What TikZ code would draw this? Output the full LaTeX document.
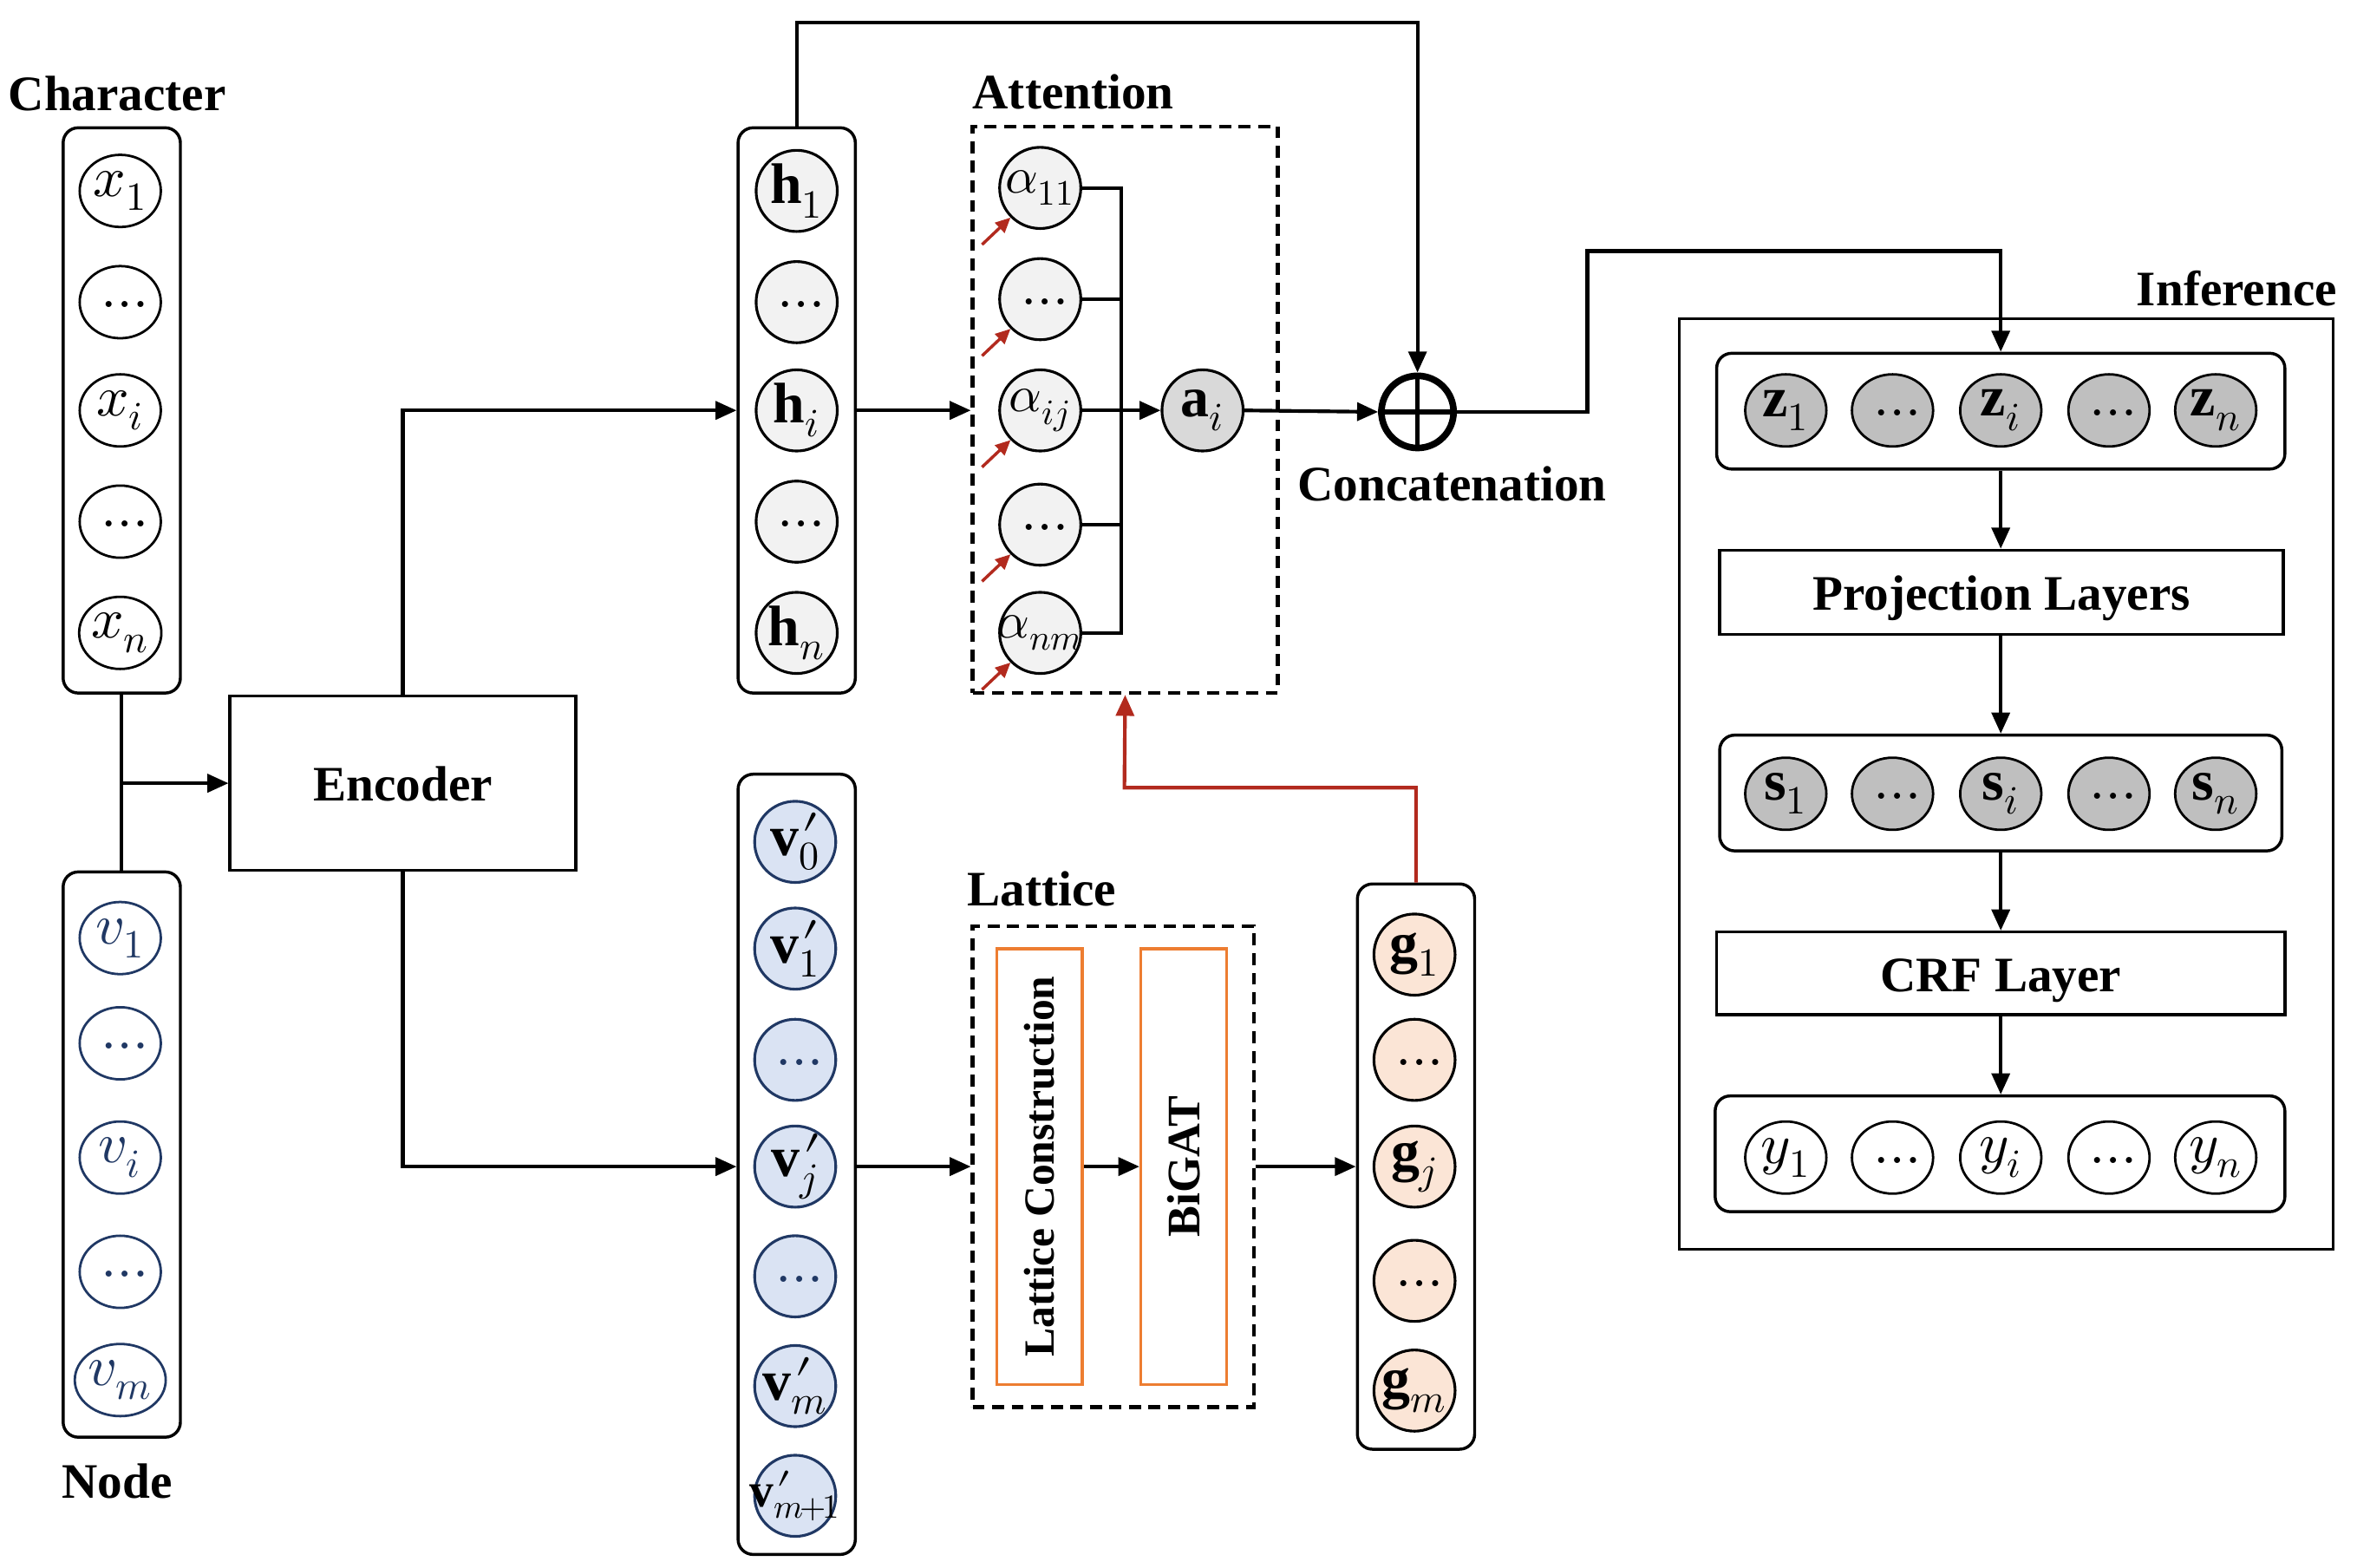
\documentclass[tikz,border=0pt]{standalone}
\usepackage{amsmath}
\usepackage{graphicx}
\usepackage{fontspec}
\usepackage{unicode-math}
\setmainfont{Liberation Serif}
\setmathfont{Latin Modern Math}
\usetikzlibrary{arrows.meta,shapes.geometric,calc}
\definecolor{navy}{HTML}{203864}
\definecolor{vfill}{HTML}{DAE3F3}
\definecolor{hfill}{HTML}{F2F2F2}
\definecolor{afill}{HTML}{D9D9D9}
\definecolor{zfill}{HTML}{BFBFBF}
\definecolor{gfill}{HTML}{FBE5D6}
\definecolor{orng}{HTML}{ED7D31}
\definecolor{dred}{HTML}{B22A1E}
\newcommand{\mydots}{$\vphantom{x_1}\ldots$}
\newcommand{\vp}[1]{\makebox[0pt]{$\mathbf{v}\rlap{$\mkern1mu\prime$}_{#1}$}}
\begin{document}
\begin{tikzpicture}[x=0.5pt,y=-0.5pt,
  arr/.style={line width=1.2pt,-{Triangle[length=7pt,width=6pt]}},
  redarr/.style={dred,line width=1.2pt,-{Triangle[length=7pt,width=6pt]}},
  redsm/.style={dred,line width=1pt,-{Triangle[length=5pt,width=4.5pt]}},
  conn/.style={line width=1.2pt},
  colbox/.style={draw,line width=1pt,rounded corners=5pt,minimum width=39pt,inner sep=0pt},
  rowbox/.style={draw,line width=1pt,rounded corners=5pt,minimum height=38.5pt,inner sep=0pt},
  plainbox/.style={draw,line width=1pt,inner sep=0pt},
  boxtext/.style={font=\fontsize{16.5}{18}\selectfont\bfseries,text height=16pt,text depth=4pt},
  ell/.style={ellipse,draw,line width=0.8pt,minimum width=27pt,minimum height=24pt,inner sep=0pt,font=\fontsize{19}{19}\selectfont},
  vell/.style={ell,draw=navy,text=navy},
  zell/.style={ell,fill=zfill},
  circ/.style={circle,draw,line width=0.9pt,minimum size=27pt,inner sep=0pt,font=\fontsize{19}{19}\selectfont},
  hcirc/.style={circ,fill=hfill},
  vcirc/.style={circ,draw=navy,fill=vfill},
  gcirc/.style={circ,fill=gfill},
  dashbox/.style={draw,line width=1.2pt,dash pattern=on 4pt off 2.5pt,inner sep=0pt},
  orbox/.style={draw=orng,line width=1pt,inner sep=0pt,minimum width=28.5pt,minimum height=145pt},
  lbl/.style={font=\fontsize{16.5}{18}\selectfont\bfseries,inner sep=0pt}
]
\useasboundingbox (0,0) rectangle (1568,1043);

% ---------- Character column ----------
\node[lbl] (charlbl) at (78,62) {Character};
\node[colbox,minimum height=188pt] (cbox) at (81,273) {};
\node[ell] (x1) at (80,127) {$x_1$};
\node[ell] (x2) at (80,201) {\mydots};
\node[ell] (x3) at (80,273) {$x_i$};
\node[ell] (x4) at (80,347) {\mydots};
\node[ell] (x5) at (80,421) {$x_n$};

% ---------- Node column ----------
\node[colbox,minimum height=188pt] (nbox) at (81,768) {};
\node[vell] (v1) at (80,624) {$v_1$};
\node[vell] (v2) at (80,694) {\mydots};
\node[vell] (v3) at (80,770) {$v_i$};
\node[vell] (v4) at (80,846) {\mydots};
\node[vell] (v5) at (80,918) {$v_m$};
\node[lbl] (nodelbl) at (78,985) {Node};

% ---------- Encoder ----------
\node[plainbox,boxtext,minimum width=115pt,minimum height=58pt] (enc) at (268,521) {Encoder};
\draw[conn] (cbox.south) -- (nbox.north);
\draw[arr] (cbox.south |- enc.west) -- (enc.west);

% ---------- h column ----------
\node[colbox,minimum height=188pt] (hbox) at (530,273) {};
\node[hcirc] (h1) at (530,127) {$\mathbf{h}_1$};
\node[hcirc] (h2) at (530,201) {\mydots};
\node[hcirc] (hi) at (530,273) {$\mathbf{h}_i$};
\node[hcirc] (h4) at (530,347) {\mydots};
\node[hcirc] (hn) at (530,421) {$\mathbf{h}_n$};
\draw[arr] (enc.north) |- (hi -| hbox.west);

% ---------- v' column ----------
\node[colbox,minimum height=259.5pt] (vbox) at (530,774.5) {};
\node[vcirc] (vp0) at (529,560) {\vp{0}};
\node[vcirc] (vp1) at (529,631) {\vp{1}};
\node[vcirc,text=navy] (vp2) at (529,705) {\mydots};
\node[vcirc] (vpj) at (529,776) {\vp{j}};
\node[vcirc,text=navy] (vp4) at (529,849) {\mydots};
\node[vcirc] (vpm) at (529,922) {\vp{m}};
\node[vcirc,font=\fontsize{16}{16}\selectfont] (vpm1) at (529,995) {\vp{m\mkern-2mu+\mkern-2mu1}};
\draw[arr] (enc.south) |- (vpj -| vbox.west);

% ---------- Attention ----------
\node[lbl] (attlbl) at (714,61) {Attention};
\node[dashbox,minimum width=101.5pt,minimum height=188.5pt] (att) at (748.5,272.5) {};
\node[hcirc] (a1) at (692,125) {\makebox[0pt]{\fontsize{17}{17}\selectfont$\alpha_{11}$}};
\node[hcirc] (a2) at (692,199) {\mydots};
\node[hcirc] (a3) at (692,273) {\makebox[0pt]{\fontsize{17}{17}\selectfont$\alpha_{ij}$}};
\node[hcirc] (a4) at (692,349) {\mydots};
\node[hcirc] (a5) at (692,421) {\makebox[0pt]{\fontsize{17}{17}\selectfont$\alpha_{nm}$}};
\node[circ,fill=afill] (ai) at (800,273) {$\mathbf{a}_i$};
\coordinate (busx) at (746,0);
\draw[conn] (a1.east) -- (a1.east -| busx) -- (a5.east -| busx) -- (a5.east);
\draw[conn] (a2.east) -- (a2.east -| busx);
\draw[conn] (a4.east) -- (a4.east -| busx);
\draw[arr] (a3.east) -- (ai.west);
\draw[arr] (hi -| hbox.east) -- (hi -| att.west);
\foreach \n in {a1,a2,a3,a4,a5}{
  \draw[redsm] ($(\n.225)+(-19,18)$) -- (\n.225);
}

% ---------- Concatenation ----------
\node[circle,draw,line width=2.2pt,minimum size=24pt,inner sep=0pt] (oplus) at (943,274) {};
\draw[line width=1.5pt] (oplus.north) -- (oplus.south);
\draw[line width=1.5pt] (oplus.west) -- (oplus.east);
\node[lbl] (conclbl) at (966,322) {Concatenation};
\draw[arr] (ai.east) -- (oplus.west);
\coordinate (k0) at (943,15);
\draw[arr] (hbox.north) |- (k0) -- (oplus.north);

% ---------- Lattice ----------
\node[lbl] (latlbl) at (693,591) {Lattice};
\node[dashbox,minimum width=93.5pt,minimum height=160pt] (latt) at (740.5,776) {};
\node[orbox] (lc) at (691.5,776) {};
\node[rotate=90,font=\fontsize{14.3}{16}\selectfont\bfseries,inner sep=0pt] (lctxt) at (lc.center) {Lattice Construction};
\node[orbox] (bigat) at (787.5,776) {};
\node[rotate=90,font=\fontsize{15.5}{17}\selectfont\bfseries,inner sep=0pt] (bigattxt) at (bigat.center) {BiGAT};
\draw[arr] (vpj.east -| vbox.east) -- (latt.west);
\draw[arr] (lc.east) -- (bigat.west);

% ---------- g column ----------
\node[colbox,minimum height=188pt] (gbox) at (942,776) {};
\node[gcirc] (g1) at (941,635) {$\mathbf{g}_1$};
\node[gcirc] (g2) at (941,705) {\mydots};
\node[gcirc] (gj) at (941,776) {$\mathbf{g}_j$};
\node[gcirc] (g4) at (941,852) {\mydots};
\node[gcirc] (gm) at (941,925) {\makebox[0pt]{$\mathbf{g}_m$}};
\draw[arr] (latt.east) -- (gj -| gbox.west);
\coordinate (rk) at (748,524);
\draw[redarr] (gbox.north) |- (rk) -- (att.south);

% ---------- Inference ----------
\node[plainbox,minimum width=217.5pt,minimum height=309.5pt] (inf) at (1334.5,521.5) {};
\node[lbl,anchor=east] (inflbl) at (1555,192) {Inference};

\node[rowbox,minimum width=189pt] (zbox) at (1331,273.5) {};
\node[zell] (z1) at (1188,273) {$\mathbf{z}_1$};
\node[zell] (z2) at (1259,273) {\mydots};
\node[zell] (z3) at (1331,273) {$\mathbf{z}_i$};
\node[zell] (z4) at (1403,273) {\mydots};
\node[zell] (z5) at (1474,273) {$\mathbf{z}_n$};

\node[plainbox,boxtext,minimum width=187.5pt,minimum height=28pt] (proj) at (1331.5,394) {Projection Layers};

\node[rowbox,minimum width=187pt] (sbox) at (1331,527.5) {};
\node[zell] (s1) at (1188,528) {$\mathbf{s}_1$};
\node[zell] (s2) at (1259,528) {\mydots};
\node[zell] (s3) at (1331,528) {$\mathbf{s}_i$};
\node[zell] (s4) at (1403,528) {\mydots};
\node[zell] (s5) at (1474,528) {$\mathbf{s}_n$};

\node[plainbox,boxtext,minimum width=189pt,minimum height=27.5pt] (crf) at (1331,647.5) {CRF Layer};

\node[rowbox,minimum width=189.5pt] (ybox) at (1330.5,767.5) {};
\node[ell] (y1) at (1188,770) {$y_1$};
\node[ell] (y2) at (1259,770) {\mydots};
\node[ell] (y3) at (1331,770) {$y_i$};
\node[ell] (y4) at (1403,770) {\mydots};
\node[ell] (y5) at (1474,770) {$y_n$};

\coordinate (k1) at (1056,167);
\draw[arr] (oplus.east) -| (k1) -| (zbox.north);
\draw[arr] (zbox.south) -- (zbox.south |- proj.north);
\draw[arr] (proj.south -| zbox.south) -- (sbox.north -| zbox.south);
\draw[arr] (sbox.south -| zbox.south) -- (crf.north -| zbox.south);
\draw[arr] (crf.south -| zbox.south) -- (ybox.north -| zbox.south);
\end{tikzpicture}
\end{document}
